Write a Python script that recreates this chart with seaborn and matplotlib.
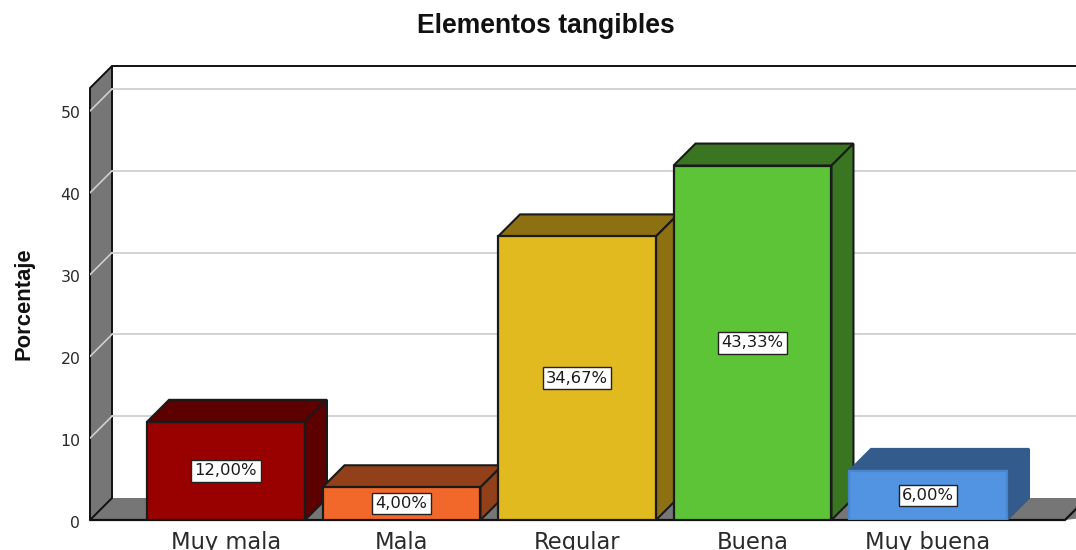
import matplotlib
matplotlib.use("Agg")
import matplotlib.pyplot as plt
import matplotlib.transforms as mtrans
from matplotlib.patches import Polygon, Rectangle
import pandas as pd
import seaborn as sns

categories = ["Muy mala", "Mala", "Regular", "Buena", "Muy buena"]
values = [12.00, 4.00, 34.67, 43.33, 6.00]
labels = ["12,00%", "4,00%", "34,67%", "43,33%", "6,00%"]
front_colors = ["#990000", "#F2682A", "#E0BA1E", "#5DC438", "#5294E2"]
dark_colors = ["#5C0000", "#91401A", "#8C7012", "#3A7522", "#335C8D"]
edge_front = ["#1a1a1a", "#1a1a1a", "#1a1a1a", "#1a1a1a", "#4A86CE"]
edge_depth = ["#1a1a1a", "#1a1a1a", "#1a1a1a", "#1a1a1a", "#335C8D"]
y_ticks = [0, 10, 20, 30, 40, 50]

W, H = 1076, 550
sns.set_theme(style="white")
plt.rcParams["font.family"] = ["DejaVu Sans"]
fig = plt.figure(figsize=(W / 100, H / 100), dpi=100)

# plot frame in pixels
left, right, base, top = 90, 1076, 520, 66
ax = fig.add_axes([left / W, (H - base) / H, (right - left) / W, (base - top) / H])
px_y = 8.18
px_x = 175.5
ax.set_ylim(0, (base - top) / px_y)
ax.set_xlim((left - 226) / px_x, (right - 226) / px_x)
dx = 22 / px_x
dy = 22 / px_y
x0, x1 = ax.get_xlim()
y1 = ax.get_ylim()[1]
x_end = x0 + (1065 - left) / px_x

df = pd.DataFrame({"cat": categories, "val": values})
sns.barplot(data=df, x="cat", y="val", hue="cat", palette=front_colors, legend=False,
            width=0.9, saturation=1, ax=ax, dodge=False)
ax.set_xlim(x0, x1)
ax.set_ylim(0, y1)
bars = [p for p in ax.patches if isinstance(p, Rectangle)]

# walls and floor
wall_top = (base - 88) / px_y
ax.add_patch(Polygon([(x0, 0), (x0 + dx, dy), (x1 + 1, dy), (x_end, 0)], closed=True,
                     fc="#767676", ec="none", zorder=0.5, clip_on=False))
ax.add_patch(Polygon([(x0, 0), (x0, wall_top), (x0 + dx, wall_top + dy), (x0 + dx, dy)], closed=True,
                     fc="#767676", ec="#111111", lw=1.4, zorder=0.6, clip_on=False))
ax.plot([x0 + dx, x1 + 1], [wall_top + dy - 0.05] * 2, color="#111111", lw=1.4, zorder=0.7, clip_on=False)
ax.plot([x0, x_end, x_end + dx], [0, 0, dy], color="#111111", lw=1.6, zorder=0.7, clip_on=False)
for t in y_ticks[1:]:
    ax.plot([x0, x0 + dx], [t, t + dy], color="#CFCFCF", lw=1.2, zorder=0.8)
    ax.plot([x0 + dx, x1], [t + dy, t + dy], color="#D2D2D2", lw=1.4, zorder=0.8)

# 3-D extrusion of each bar, derived from the bar itself
for i, bar in enumerate(bars):
    xa = bar.get_x()
    xb = xa + bar.get_width()
    h = bar.get_height()
    ax.add_patch(Polygon([(xa, h), (xa + dx, h + dy), (xb + dx, h + dy), (xb, h)], closed=True,
                         fc=dark_colors[i], ec=edge_depth[i], lw=1.5, zorder=2 + i))
    ax.add_patch(Polygon([(xb, 0), (xb + dx, dy), (xb + dx, h + dy), (xb, h)], closed=True,
                         fc=dark_colors[i], ec=edge_depth[i], lw=1.5, zorder=2 + i))
    bar.set_edgecolor(edge_front[i])
    bar.set_linewidth(1.6)
    bar.set_zorder(2.5 + i)
    ax.text(xa + bar.get_width() / 2, h / 2, labels[i], ha="center", va="center", fontsize=11.8,
            color="#1a1a1a", zorder=10,
            bbox=dict(boxstyle="square,pad=0.2", fc="white", ec="#222222", lw=1.0))

sns.despine(ax=ax, left=True, bottom=True)
ax.set_facecolor("none")
ax.set_xlabel("")
ax.set_yticks(y_ticks)
ax.set_yticklabels([str(t) for t in y_ticks], fontsize=11.3, color="#2a2a2a")
ax.tick_params(axis="y", length=0, pad=7)
ax.tick_params(axis="x", length=0, pad=8, labelsize=16.3, labelcolor="#2a2a2a")
offset = mtrans.ScaledTranslation(0, -0.015, fig.dpi_scale_trans)
for lab in ax.get_yticklabels():
    lab.set_transform(lab.get_transform() + offset)

ax.set_ylabel("Porcentaje", fontfamily="Liberation Sans", fontweight="bold", fontsize=15.8, color="#111111")
ax.yaxis.set_label_coords((34 - left) / (right - left), (base - 304) / (base - top))
ax.set_title("Elementos tangibles", fontfamily="Liberation Sans", fontweight="bold", fontsize=19.1,
             color="#111111", x=(546 - left) / (right - left), y=(base - 26) / (base - top), va="center", pad=0)

fig.savefig("out.png", dpi=100)
